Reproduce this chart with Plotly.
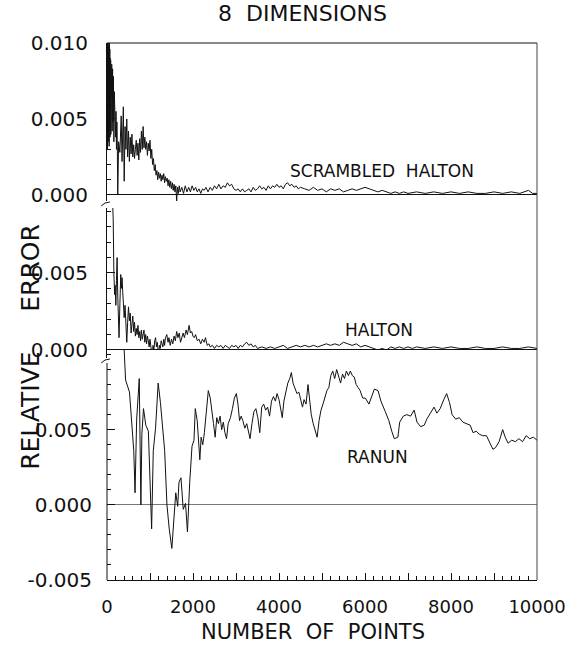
import plotly.graph_objects as go

# ---------------- data ----------------
sh_x = [5, 10, 15, 20, 25, 30, 35, 40, 45, 50, 55, 60, 65, 70, 75, 80, 85, 90, 95, 100,
        110, 120, 130, 140, 150, 160, 170, 180, 190, 200, 210, 220, 230, 240, 250,
        270, 300, 330, 350, 380, 400, 420, 440, 460, 480, 500, 520, 540, 560, 580, 600,
        620, 640, 660, 680, 700, 720, 740, 760, 780, 800, 820, 840, 860, 880, 900, 920,
        940, 960, 980, 1000, 1020, 1040, 1060, 1080, 1100, 1120, 1140, 1160, 1180, 1200,
        1220, 1240, 1260, 1280, 1300, 1320, 1340, 1360, 1380, 1400, 1420, 1440, 1460, 1480,
        1500, 1520, 1540, 1560, 1580, 1600, 1620, 1640, 1660, 1680, 1700, 1740, 1780, 1820,
        1860, 1900, 1940, 1980, 2020, 2060, 2100, 2140, 2180, 2220, 2260, 2300, 2350, 2400,
        2450, 2500, 2550, 2600, 2650, 2700, 2750, 2800, 2850, 2900, 2950, 3000, 3050, 3100,
        3150, 3200, 3250, 3300, 3350, 3400, 3450, 3500, 3550, 3600, 3650, 3700, 3750, 3800,
        3850, 3900, 3950, 4000, 4050, 4100, 4150, 4200, 4250, 4300, 4350, 4400, 4450, 4500,
        4600, 4700, 4800, 4900, 5000, 5100, 5200, 5300, 5400, 5500, 5600, 5700, 5800, 5900,
        6000, 6100, 6200, 6300, 6400, 6500, 6600, 6700, 6800, 6900, 7000, 7200, 7400, 7600,
        7800, 8000, 8200, 8400, 8600, 8800, 9000, 9200, 9400, 9600, 9800, 9900, 10000]
sh_y = [0.0095, 0.0030, 0.0105, 0.0045, 0.0110, 0.0035, 0.0102, 0.0050, 0.0098, 0.0032,
        0.0101, 0.0042, 0.0096, 0.0038, 0.0093, 0.0055, 0.0089, 0.0040, 0.0087, 0.0060,
        0.0086, 0.0042, 0.0083, 0.0048, 0.0078, 0.0035, 0.0068, 0.0045, 0.0060, 0.0038,
        0.0055, 0.0030, 0.0048, 0.0032, 0.0000,
        0.0035, 0.0028, 0.0052, 0.0022, 0.0058, 0.0009, 0.0045, 0.0030, 0.0050, 0.0025,
        0.0042, 0.0022, 0.0038, 0.0027, 0.0040, 0.0025, 0.0033, 0.0024, 0.0030, 0.0036,
        0.0026, 0.0034, 0.0023, 0.0037, 0.0028, 0.0042, 0.0030, 0.0045, 0.0031, 0.0038,
        0.0030, 0.0035, 0.0026, 0.0034, 0.0029, 0.0036, 0.0024, 0.0030, 0.0020, 0.0024,
        0.0016, 0.0020, 0.0013, 0.0016, 0.0010, 0.0015, 0.0011, 0.0014, 0.0009, 0.0013,
        0.0010, 0.0014, 0.0008, 0.0012, 0.0009, 0.0011, 0.0006, 0.0010, 0.0005, 0.0009,
        0.0004, 0.0008, 0.0003, 0.0007, 0.0002, 0.0006, -0.0004, 0.0005, 0.0001, 0.0006,
        0.0002, 0.0005, 0.0001, 0.0006, 0.0002, 0.0005, 0.0002, 0.0006, 0.0003, 0.0005,
        0.0002, 0.0004, 0.0001, 0.0004, 0.0003, 0.0005, 0.0002, 0.0005, 0.0003, 0.0006,
        0.0004, 0.0007, 0.0004, 0.0006, 0.0005, 0.0008, 0.0006, 0.0007, 0.0004, 0.0003,
        0.0004, 0.0002, 0.0004, 0.0002, 0.0003, 0.0004, 0.0002, 0.0005, 0.0003, 0.0004,
        0.0006, 0.0004, 0.0005, 0.0003, 0.0006, 0.0004, 0.0006, 0.0005, 0.0007, 0.0005,
        0.0006, 0.0004, 0.0007, 0.0008, 0.0006, 0.0007, 0.0005, 0.0006, 0.0004, 0.0005,
        0.0004, 0.0003, 0.0005, 0.0003, 0.0004, 0.0002, 0.0004, 0.0003, 0.0004, 0.0002,
        0.0003, 0.0004, 0.0003, 0.0004, 0.0005, 0.0004, 0.0003, 0.0002, 0.0003, 0.0002,
        0.0001, 0.0002, 0.0001, 0.0002, 0.0001, 0.0002, 0.0001, 0.0002, 0.0001, 0.0002,
        0.0001, 0.0002, 0.0001, 0.0001, 0.0002, 0.0001, 0.0002, 0.0001, 0.0003, 0.0001,
        0.0001]

ha_x = [120, 144, 160, 178, 190, 205, 220, 235, 250, 265, 280, 300, 320, 335, 350, 365,
        380, 400, 420, 440, 460, 480, 500, 520, 540, 560, 580, 600, 620, 640, 660, 680,
        700, 720, 740, 760, 780, 800, 820, 840, 860, 880, 900, 920, 940, 960, 980, 1000,
        1020, 1050, 1070, 1090, 1110, 1130, 1150, 1170, 1200, 1220, 1240, 1260, 1280, 1300,
        1320, 1340, 1360, 1390, 1420, 1440, 1470, 1500, 1530, 1560, 1590, 1620, 1650, 1680,
        1710, 1740, 1770, 1800, 1840, 1870, 1910, 1940, 1970, 2000, 2030, 2060, 2100, 2140,
        2180, 2220, 2260, 2290, 2330, 2370, 2400, 2450, 2500, 2550, 2600, 2650, 2700, 2750,
        2800, 2850, 2900, 2950, 3000, 3050, 3100, 3150, 3200, 3250, 3300, 3350, 3400, 3450,
        3500, 3600, 3700, 3800, 3900, 4000, 4100, 4200, 4300, 4400, 4500, 4600, 4700, 4800,
        4900, 5000, 5100, 5200, 5300, 5400, 5500, 5600, 5700, 5800, 5900, 6000, 6100, 6200,
        6300, 6400, 6500, 6600, 6700, 6800, 6900, 7000, 7100, 7200, 7400, 7600, 7800, 8000,
        8200, 8400, 8600, 8800, 9000, 9200, 9400, 9600, 9800, 10000]
ha_y = [0.0105, 0.0085, 0.0050, 0.0036, 0.0042, 0.0029, 0.0045, 0.0060, 0.0035, 0.0024,
        0.0008, 0.0030, 0.0049, 0.0040, 0.0047, 0.0038, 0.0030, 0.0021, 0.0029, 0.0015,
        0.0005, 0.0018, 0.0028, 0.0019, 0.0024, 0.0011, 0.0017, 0.0022, 0.0012, 0.0018,
        0.0009, 0.0014, 0.0010, 0.0016, 0.0008, 0.0012, 0.0006, 0.0013, 0.0007, 0.0011,
        0.0013, 0.0005, 0.0010, 0.0004, 0.0009, 0.0006, 0.0002, 0.0007, 0.0001, -0.0005,
        0.0003, 0.0000, 0.0006, 0.0008, 0.0002, 0.0005, -0.0003, 0.0003, 0.0001, 0.0006,
        0.0004, 0.0002, 0.0007, 0.0003, 0.0008, 0.0010, 0.0005, 0.0008, 0.0003, 0.0007,
        0.0004, 0.0009, 0.0006, 0.0012, 0.0008, 0.0011, 0.0005, 0.0009, 0.0011, 0.0008,
        0.0013, 0.0010, 0.0016, 0.0011, 0.0012, 0.0009, 0.0008, 0.0010, 0.0006, 0.0007,
        0.0004, 0.0007, 0.0005, 0.0008, 0.0003, 0.0004, 0.0002, 0.0003, 0.0001, 0.0003,
        0.0002, 0.0003, 0.0001, 0.0003, 0.0002, 0.0001, 0.0003, 0.0002, 0.0003, 0.0001,
        0.0003, 0.0002, 0.0004, 0.0005, 0.0003, 0.0004, 0.0002, 0.0003, 0.0001, 0.0002,
        0.0001, 0.0002, 0.0001, 0.0002, 0.0003, 0.0001, 0.0002, 0.0003, 0.0002, 0.0003,
        0.0002, 0.0003, 0.0002, 0.0003, 0.0004, 0.0003, 0.0004, 0.0003, 0.0005, 0.0004,
        0.0003, 0.0004, 0.0002, 0.0003, 0.0002, 0.0001, 0.0000, 0.0001, 0.0000, 0.0002,
        0.0001, 0.0002, 0.0001, 0.0002, 0.0001, 0.0002, 0.0001, 0.0002, 0.0001, 0.0002,
        0.0001, 0.0001, 0.0002, 0.0001, 0.0001, 0.0002, 0.0001, 0.0001, 0.0002, 0.0001]

ra_x = [380, 409, 432, 523, 561, 600, 622, 652, 690, 750, 788, 811, 849, 902, 962, 1038,
        1076, 1129, 1190, 1243, 1304, 1341, 1394, 1447, 1508, 1546, 1599, 1644, 1674, 1720,
        1773, 1826, 1848, 1871,
        1924, 1977, 2023, 2053, 2098, 2129, 2159, 2189, 2227, 2265, 2303, 2356, 2401, 2439,
        2477, 2515, 2553, 2591, 2629, 2667, 2705, 2742, 2780, 2818, 2871, 2917, 2962, 3008,
        3045, 3083, 3121, 3159, 3205, 3250, 3288, 3326, 3371, 3417, 3462, 3508, 3553, 3598,
        3644, 3689, 3735, 3780, 3826, 3871, 3917, 3955, 4000, 4038, 4076, 4114, 4159, 4205,
        4250, 4288, 4326, 4371, 4417, 4462, 4508, 4546, 4583, 4629, 4674, 4712, 4750, 4796,
        4841, 4886, 4932, 4977, 5023, 5068, 5114, 5159, 5205, 5250, 5295, 5341, 5386, 5432,
        5477, 5523, 5568, 5614, 5659, 5705, 5750, 5795, 5841, 5886, 5947,
        6008, 6092, 6134, 6218, 6303, 6370, 6471, 6555, 6622, 6681, 6765, 6807, 6891, 6975,
        7059, 7143, 7210, 7294, 7378, 7437, 7521, 7605, 7672, 7748, 7832, 7899, 7966, 8025,
        8109, 8193, 8277, 8361, 8445, 8513, 8588, 8655, 8739, 8824, 8908, 8975, 9034, 9118,
        9202, 9261, 9328, 9412, 9496, 9580, 9664, 9748, 9832, 9916, 10000]
ra_y = [0.0115, 0.0101, 0.0083, 0.0075, 0.0062, 0.0049, 0.0036, 0.0008, 0.0057, 0.0084,
        0.0000, 0.0047, 0.0064, 0.0053, 0.0049, -0.0016, 0.0036, 0.0051, 0.0081, 0.0068,
        0.0044, 0.0036, 0.0000, -0.0016, -0.0029, -0.0012, 0.0008, -0.0001, 0.0015, 0.0018,
        -0.0003, 0.0001, -0.0008, -0.0018,
        0.0015, 0.0039, 0.0043, 0.0064, 0.0056, 0.0045, 0.0030, 0.0045, 0.0040, 0.0048,
        0.0060, 0.0076, 0.0071, 0.0060, 0.0054, 0.0045, 0.0058, 0.0054, 0.0059, 0.0050,
        0.0055, 0.0048, 0.0044, 0.0054, 0.0058, 0.0064, 0.0071, 0.0074, 0.0067, 0.0056,
        0.0059, 0.0056, 0.0051, 0.0054, 0.0048, 0.0044, 0.0054, 0.0062, 0.0064, 0.0058,
        0.0048, 0.0065, 0.0067, 0.0063, 0.0065, 0.0059, 0.0069, 0.0072, 0.0069, 0.0074,
        0.0070, 0.0065, 0.0058, 0.0069, 0.0076, 0.0081, 0.0084, 0.0088, 0.0081, 0.0078,
        0.0074, 0.0075, 0.0069, 0.0065, 0.0070, 0.0067, 0.0080, 0.0069, 0.0060, 0.0054,
        0.0050, 0.0045, 0.0056, 0.0063, 0.0067, 0.0071, 0.0076, 0.0078, 0.0086, 0.0089,
        0.0084, 0.0090, 0.0085, 0.0081, 0.0087, 0.0084, 0.0089, 0.0086, 0.0089, 0.0086,
        0.0085, 0.0080, 0.0078, 0.0076, 0.0071,
        0.0071, 0.0067, 0.0070, 0.0077, 0.0076, 0.0069, 0.0062, 0.0056, 0.0049, 0.0044,
        0.0045, 0.0055, 0.0059, 0.0060, 0.0059, 0.0063, 0.0055, 0.0052, 0.0053, 0.0057,
        0.0061, 0.0065, 0.0061, 0.0064, 0.0070, 0.0074, 0.0068, 0.0060, 0.0057, 0.0058,
        0.0055, 0.0054, 0.0053, 0.0048, 0.0049, 0.0047, 0.0046, 0.0046, 0.0041, 0.0037,
        0.0038, 0.0042, 0.0050, 0.0045, 0.0041, 0.0043, 0.0042, 0.0044, 0.0042, 0.0046,
        0.0044, 0.0045, 0.0043]

x_tickvals = [0, 1000, 2000, 3000, 4000, 5000, 6000, 7000, 8000, 9000, 10000]
x_ticktext = ["0", "", "2000", "", "4000", "", "6000", "", "8000", "", "10000"]
y1_tickvals = [0.0, 0.005, 0.010]
y1_ticktext = ["0.000", "0.005", "0.010"]
y2_tickvals = [0.0, 0.005]
y2_ticktext = ["0.000", "0.005"]
y3_tickvals = [-0.005, 0.0, 0.005]
y3_ticktext = ["-0.005", "0.000", "0.005"]

labels = ["SCRAMBLED\u00a0\u00a0HALTON", "HALTON", "RANUN"]

# ---------------- layout helpers (screen pixel -> paper) ----------------
W, H = 578, 646
X0, X1 = 107, 547            # screen px of x=0 and x=10000
YTOP, YBOT = 43, 580         # screen px of plot top / bottom axis
L, R = X0, W - X1
T, B = YTOP, H - YBOT
PW, PH = X1 - X0, YBOT - YTOP


def px(xs):
    return (xs - X0) / PW


def py(ys):
    return (YBOT - ys) / PH


FONT = "DejaVu Sans"
ink = "#111111"

fig = go.Figure()
line = dict(color=ink, width=1)
fig.add_trace(go.Scatter(x=sh_x, y=sh_y, mode="lines", line=line, xaxis="x", yaxis="y", showlegend=False))
fig.add_trace(go.Scatter(x=ha_x, y=ha_y, mode="lines", line=line, xaxis="x", yaxis="y2", showlegend=False))
fig.add_trace(go.Scatter(x=ra_x, y=ra_y, mode="lines", line=line, xaxis="x", yaxis="y3", showlegend=False))

yax_common = dict(
    anchor="x", ticks="inside", ticklen=8, tickwidth=1, tickcolor=ink,
    showgrid=False, zeroline=True, zerolinecolor=ink, zerolinewidth=1,
    showline=True, linecolor=ink, linewidth=1,
    tickfont=dict(family=FONT, size=20, color=ink),
    ticklabelstandoff=14,
    minor=dict(dtick=0.001, tick0=0, ticks="inside", ticklen=4, tickcolor=ink, showgrid=False),
)

fig.update_layout(
    width=W, height=H,
    margin=dict(l=L, r=R, t=T, b=B, pad=0),
    paper_bgcolor="white", plot_bgcolor="white",
    font=dict(family=FONT, color=ink),
    xaxis=dict(
        range=[0, 10000], anchor="y3", domain=[0, 1],
        tickmode="array", tickvals=x_tickvals, ticktext=x_ticktext,
        ticks="inside", ticklen=7, tickcolor=ink,
        minor=dict(dtick=200, tick0=0, ticks="inside", ticklen=4, tickcolor=ink, showgrid=False),
        showgrid=False, zeroline=False, showline=True, linecolor=ink, linewidth=1,
        tickfont=dict(family=FONT, size=18, color=ink), ticklabelstandoff=10,
    ),
    yaxis=dict(domain=[py(201), 1.0], range=[-0.0004, 0.010],
               tickmode="array", tickvals=y1_tickvals, ticktext=y1_ticktext, **yax_common),
    yaxis2=dict(domain=[py(358), py(208)], range=[-0.00052, 0.00922],
                tickmode="array", tickvals=y2_tickvals, ticktext=y2_ticktext, **yax_common),
    yaxis3=dict(domain=[0, py(350)], range=[-0.005, 0.0103],
                tickmode="array", tickvals=y3_tickvals, ticktext=y3_ticktext,
                **{**yax_common, "showline": False, "zerolinecolor": "#777777"}),
)

# frame: top and right borders, bottom-panel left axis line, axis breaks
shapes = [
    dict(type="line", xref="paper", yref="paper", x0=0, x1=1, y0=1, y1=1, line=dict(color=ink, width=1)),
    dict(type="line", xref="paper", yref="paper", x0=1, x1=1, y0=0, y1=1, line=dict(color="#444", width=1)),
    dict(type="line", xref="paper", yref="paper", x0=0, x1=0, y0=0, y1=py(363), line=dict(color=ink, width=1)),
]
for yb in (204, 361):
    path = "M {} {} L {} {} L {} {}".format(px(101), py(yb + 2), px(105), py(yb - 1), px(110), py(yb - 2))
    shapes.append(dict(type="path", xref="paper", yref="paper", path=path, line=dict(color=ink, width=1)))
fig.update_layout(shapes=shapes)

annotations = [
    dict(text="8\u00a0\u00a0DIMENSIONS", xref="paper", yref="paper", x=px(307), y=py(14),
         showarrow=False, font=dict(family=FONT, size=22, color=ink), xanchor="center", yanchor="middle"),
    dict(text="NUMBER\u00a0\u00a0OF\u00a0\u00a0POINTS", xref="paper", yref="paper", x=px(318), y=py(632),
         showarrow=False, font=dict(family=FONT, size=21, color=ink), xanchor="center", yanchor="middle"),
    dict(text="RELATIVE\u00a0\u00a0\u00a0\u00a0\u00a0ERROR", xref="paper", yref="paper", x=px(28), y=py(347),
         showarrow=False, textangle=-90, font=dict(family=FONT, size=25, color=ink),
         xanchor="center", yanchor="middle"),
    dict(text=labels[0], xref="x", yref="y", x=6386, y=0.0016, showarrow=False,
         font=dict(family=FONT, size=17, color=ink), xanchor="center", yanchor="middle"),
    dict(text=labels[1], xref="x", yref="y2", x=6318, y=0.0013, showarrow=False,
         font=dict(family=FONT, size=17, color=ink), xanchor="center", yanchor="middle"),
    dict(text=labels[2], xref="x", yref="y3", x=6280, y=0.0032, showarrow=False,
         font=dict(family=FONT, size=17, color=ink), xanchor="center", yanchor="middle"),
]
fig.update_layout(annotations=annotations)

# remove the browser's default page margin so the figure sits at the window origin
fig.write_html("out.html", config={"displayModeBar": False},
               post_script="document.body.style.margin='0';")
